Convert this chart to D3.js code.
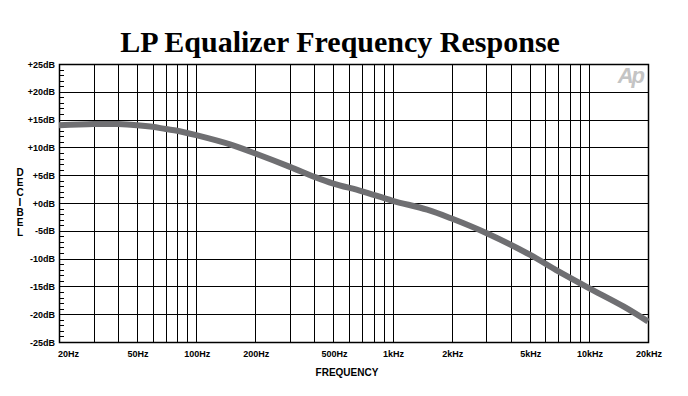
<!DOCTYPE html>
<html>
<head>
<meta charset="utf-8">
<script src="https://cdn.jsdelivr.net/npm/d3@7"></script>
<style>
body { margin: 0; background: #fff; }
svg text { font-family: "Liberation Sans", Arial, sans-serif; font-weight: bold; }
</style>
</head>
<body>
<svg id="chart" width="688" height="396"></svg>
<script>
// frequencies (Hz) and response (dB)
var freqs = [20, 30, 40, 50, 60, 70, 80, 100, 150, 200, 300, 400, 500, 700, 1000, 1500, 2000, 3000, 5000, 7000, 10000, 15000, 20000];
var gains = [14.0, 14.2, 14.2, 14.0, 13.7, 13.3, 13.0, 12.2, 10.5, 8.9, 6.5, 4.7, 3.5, 2.1, 0.4, -1.2, -2.8, -5.4, -9.3, -12.3, -15.3, -18.6, -21.3];

var xLabelVals = [20, 50, 100, 200, 500, 1000, 2000, 5000, 10000, 20000];
var xLabels = ["20Hz", "50Hz", "100Hz", "200Hz", "500Hz", "1kHz", "2kHz", "5kHz", "10kHz", "20kHz"];
var yTickVals = [25, 20, 15, 10, 5, 0, -5, -10, -15, -20, -25];
var yLabels = ["+25dB", "+20dB", "+15dB", "+10dB", "+5dB", "+0dB", "-5dB", "-10dB", "-15dB", "-20dB", "-25dB"];

var svg = d3.select("#chart");
var pLeft = 59, pRight = 648, pTop = 64, pBottom = 342;

var x = d3.scaleLog().domain([20, 20000]).range([pLeft, pRight]);
var y = d3.scaleLinear().domain([-25, 25]).range([pBottom, pTop]);

// title
svg.append("text")
    .attr("x", 340).attr("y", 52)
    .attr("text-anchor", "middle")
    .style("font-family", "'Liberation Serif', 'Times New Roman', serif")
    .style("font-size", "30px")
    .text("LP Equalizer Frequency Response");

// vertical grid: every 1-9 multiple in each decade
var gridFreqs = [];
[10, 100, 1000, 10000].forEach(function (d) {
    for (var k = 1; k <= 9; k++) {
        var f = d * k;
        if (f > 20 && f < 20000) gridFreqs.push(f);
    }
});

var g = svg.append("g");

g.selectAll("line.vgrid")
    .data(gridFreqs)
    .enter().append("line")
    .attr("class", "vgrid")
    .attr("x1", function (d) { return Math.round(x(d)) + 0.5; })
    .attr("x2", function (d) { return Math.round(x(d)) + 0.5; })
    .attr("y1", pTop).attr("y2", pBottom)
    .attr("stroke", "#000").attr("stroke-width", 1);

g.selectAll("line.hgrid")
    .data(yTickVals)
    .enter().append("line")
    .attr("class", "hgrid")
    .attr("x1", pLeft).attr("x2", pRight)
    .attr("y1", function (d) { return Math.round(y(d)) + 0.5; })
    .attr("y2", function (d) { return Math.round(y(d)) + 0.5; })
    .attr("stroke", "#000").attr("stroke-width", 1);

// minor ticks on the left axis (every 1 dB)
var minor = d3.range(-25, 26).filter(function (d) { return d % 5 != 0; });
g.selectAll("line.minor")
    .data(minor)
    .enter().append("line")
    .attr("class", "minor")
    .attr("x1", pLeft).attr("x2", pLeft + 5)
    .attr("y1", function (d) { return Math.round(y(d)) + 0.5; })
    .attr("y2", function (d) { return Math.round(y(d)) + 0.5; })
    .attr("stroke", "#000").attr("stroke-width", 1);

// frame
g.append("rect")
    .attr("x", pLeft + 0.5).attr("y", pTop + 0.5)
    .attr("width", pRight - pLeft).attr("height", pBottom - pTop)
    .attr("fill", "none").attr("stroke", "#000").attr("stroke-width", 1.5);

// Ap logo
svg.append("text")
    .attr("x", 643).attr("y", 83)
    .attr("text-anchor", "end")
    .style("font-size", "22px")
    .style("font-style", "italic")
    .style("letter-spacing", "-2px")
    .attr("fill", "#c4c4c4")
    .text("Ap");

// y labels
svg.selectAll("text.ylab")
    .data(yTickVals)
    .enter().append("text")
    .attr("class", "ylab")
    .attr("x", 55)
    .attr("y", function (d) { return y(d) + 3.5; })
    .attr("text-anchor", "end")
    .style("font-size", "9px")
    .text(function (d, i) { return yLabels[i]; });

// x labels
svg.selectAll("text.xlab")
    .data(xLabelVals)
    .enter().append("text")
    .attr("class", "xlab")
    .attr("x", function (d, i) { return i == 0 ? 58 : x(d) + 1; })
    .attr("y", 357)
    .attr("text-anchor", function (d, i) { return i == 0 ? "start" : "middle"; })
    .style("font-size", "9px")
    .text(function (d, i) { return xLabels[i]; });

// axis titles
svg.append("text")
    .attr("x", 347).attr("y", 376)
    .attr("text-anchor", "middle")
    .style("font-size", "10px")
    .text("FREQUENCY");

var yTitle = "DECIBEL".split("");
svg.selectAll("text.ytitle")
    .data(yTitle)
    .enter().append("text")
    .attr("class", "ytitle")
    .attr("x", 20)
    .attr("y", function (d, i) { return 176 + i * 10; })
    .attr("text-anchor", "middle")
    .style("font-size", "10px")
    .text(function (d) { return d; });

// response curve
var pts = freqs.map(function (f, i) { return [f, gains[i]]; });
var line = d3.line()
    .x(function (d) { return x(d[0]); })
    .y(function (d) { return y(d[1]); })
    .curve(d3.curveCatmullRom);

svg.append("path")
    .datum(pts)
    .attr("d", line)
    .attr("fill", "none")
    .attr("stroke", "#6f6f72")
    .attr("stroke-width", 6);
</script>
</body>
</html>
